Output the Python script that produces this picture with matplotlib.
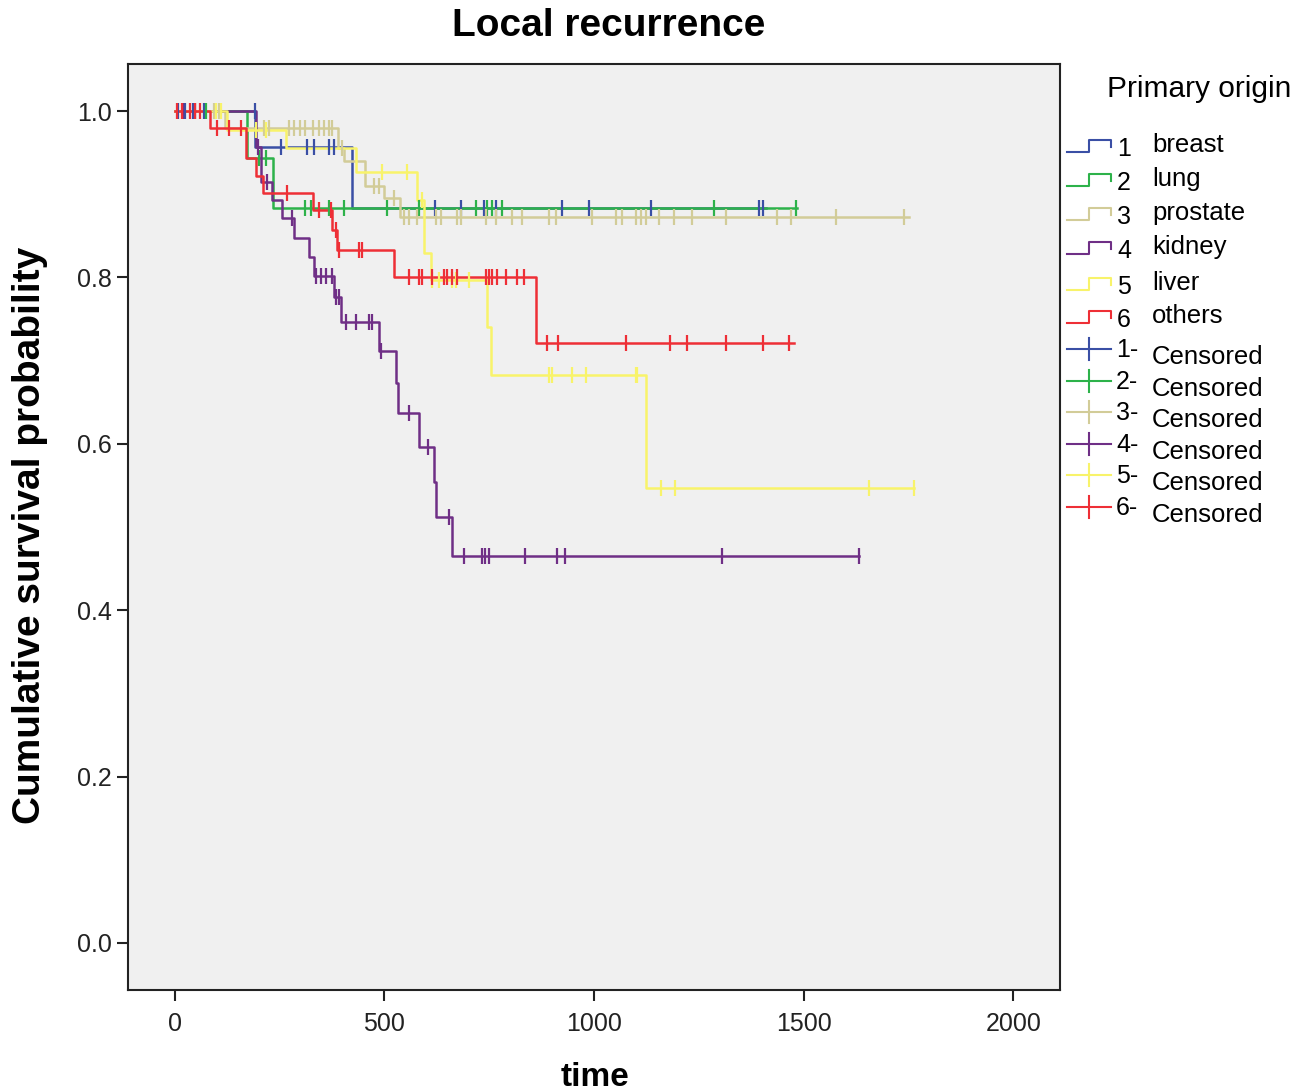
import numpy as np
import matplotlib
matplotlib.use('Agg')
import matplotlib.pyplot as plt

plt.rcParams['font.family'] = ['Liberation Sans', 'DejaVu Sans']

# group names and colours (SPSS style)
groups = ['breast', 'lung', 'prostate', 'kidney', 'liver', 'others']
colors = ['#3a4fa5', '#2db24a', '#d2cc98', '#6f2f86', '#f8f36a', '#ee2f36']

# step functions: event times and survival after each step (first value at t=0)
breast_t = [0, 192, 424]
breast_s = [1.0, 0.957, 0.883]
breast_cens = [8, 25, 45, 70, 191, 255, 317, 333, 369, 381, 621, 683, 738, 766,
               924, 988, 1136, 1393, 1402]
breast_end = 1410

lung_t = [0, 172, 235]
lung_s = [1.0, 0.944, 0.883]
lung_cens = [76, 202, 218, 310, 326, 369, 405, 507, 583, 719, 745, 757, 781,
             1286, 1481]
lung_end = 1485

prostate_t = [0, 120, 389, 405, 453, 500, 537]
prostate_s = [1.0, 0.98, 0.955, 0.94, 0.91, 0.895, 0.873]
prostate_cens = [95, 105, 214, 226, 274, 286, 298, 310, 329, 345, 357, 369, 376,
                 400, 476, 488, 524, 548, 560, 579, 624, 636, 674, 683, 743,
                 767, 805, 829, 893, 910, 995, 1052, 1067, 1100, 1112, 1124,
                 1155, 1190, 1233, 1314, 1436, 1469, 1576, 1738]
prostate_end = 1750

kidney_t = [0, 195, 205, 233, 257, 286, 321, 333, 381, 398, 488, 529, 533, 583,
            619, 623, 662]
kidney_s = [1.0, 0.957, 0.915, 0.893, 0.871, 0.847, 0.825, 0.802, 0.777, 0.746,
            0.712, 0.673, 0.637, 0.596, 0.554, 0.512, 0.465]
kidney_cens = [20, 50, 200, 221, 281, 338, 350, 362, 376, 385, 393, 410, 433,
               464, 471, 493, 560, 605, 655, 690, 733, 740, 750, 836, 912, 931,
               1305, 1631]
kidney_end = 1631

liver_t = [0, 125, 265, 433, 579, 595, 612, 745, 755, 1124]
liver_s = [1.0, 0.977, 0.955, 0.927, 0.893, 0.829, 0.797, 0.74, 0.683, 0.547]
liver_cens = [100, 110, 195, 218, 495, 555, 590, 614, 631, 662, 671, 702, 893,
              900, 948, 981, 1100, 1102, 1160, 1193, 1655, 1764]
liver_end = 1764

others_t = [0, 85, 171, 195, 210, 329, 376, 388, 524, 862]
others_s = [1.0, 0.98, 0.943, 0.922, 0.901, 0.881, 0.857, 0.833, 0.80, 0.721]
others_cens = [7, 19, 36, 50, 60, 102, 131, 158, 269, 345, 374, 386, 393, 440,
               448, 560, 583, 590, 614, 643, 650, 662, 674, 743, 750, 757, 769,
               790, 817, 833, 888, 914, 1076, 1181, 1221, 1314, 1402, 1464]
others_end = 1476

series = [
    (breast_t, breast_s, breast_cens, breast_end),
    (lung_t, lung_s, lung_cens, lung_end),
    (prostate_t, prostate_s, prostate_cens, prostate_end),
    (kidney_t, kidney_s, kidney_cens, kidney_end),
    (liver_t, liver_s, liver_cens, liver_end),
    (others_t, others_s, others_cens, others_end),
]

fig = plt.figure(figsize=(13.07, 10.91), dpi=100)
ax = fig.add_axes([0.0979, 0.0926, 0.7131, 0.8487])
ax.set_facecolor('#f0f0f0')

for (t, s, cens, end), col in zip(series, colors):
    tt = list(t) + [end]
    ss = list(s) + [s[-1]]
    ax.step(tt, ss, where='post', color=col, lw=1.8, zorder=2)
    idx = np.searchsorted(t, cens, side='right') - 1
    cy = np.array(s)[idx]
    ax.plot(cens, cy, ls='none', marker='|', ms=12, mew=1.6, color=col, zorder=3)

ax.set_xlim(-111, 2111)
ax.set_ylim(-0.0565, 1.0565)
ax.set_xticks([0, 500, 1000, 1500, 2000])
ax.set_yticks([0.0, 0.2, 0.4, 0.6, 0.8, 1.0])
ax.set_yticklabels(['0.0', '0.2', '0.4', '0.6', '0.8', '1.0'])
ax.tick_params(labelsize=18, labelcolor='#222222', length=8, width=1.5, color='#222222')
ax.tick_params(axis='x', pad=8)
for sp in ax.spines.values():
    sp.set_linewidth(1.5)
    sp.set_color('#222222')

fig.text(595 / 1307, 1 - 1077 / 1091, 'time', fontsize=24, fontweight='bold',
         ha='center', va='center')
fig.text(30 / 1307, 1 - 535 / 1091, 'Cumulative survival probability', fontsize=28,
         fontweight='bold', rotation=90, ha='center', va='center')
fig.text(609 / 1307, 1 - 26 / 1091, 'Local recurrence', fontsize=28, fontweight='bold',
         ha='center', va='center')

# legend drawn in pixel coordinates
lax = fig.add_axes([0, 0, 1, 1])
lax.set_xlim(0, 1307)
lax.set_ylim(1091, 0)
lax.axis('off')
lax.text(1107, 89, 'Primary origin', fontsize=21.5, va='center', ha='left')

row_y = [146, 180, 214, 248, 284, 317]
for i, (name, col) in enumerate(zip(groups, colors)):
    y = row_y[i]
    lax.plot([1067, 1089, 1089, 1111, 1111], [y + 6, y + 6, y - 6, y - 6, y + 1],
             color=col, lw=1.5)
    lax.text(1117, y + 3, str(i + 1), fontsize=18, va='center', ha='left')
    lax.text(1152, y - 1, name, fontsize=18.5, va='center', ha='left')

cens_y = [349, 381, 412, 444, 475, 507]
for i, col in enumerate(colors):
    y = cens_y[i]
    lax.plot([1067, 1111], [y, y], color=col, lw=1.5)
    lax.plot([1089, 1089], [y - 11, y + 11], color=col, lw=1.5)
    lax.text(1116, y + 1, str(i + 1) + '-', fontsize=18, va='center', ha='left')
    lax.text(1152, y + 8, 'Censored', fontsize=18.5, va='center', ha='left')

fig.savefig('out.png', dpi=100)
